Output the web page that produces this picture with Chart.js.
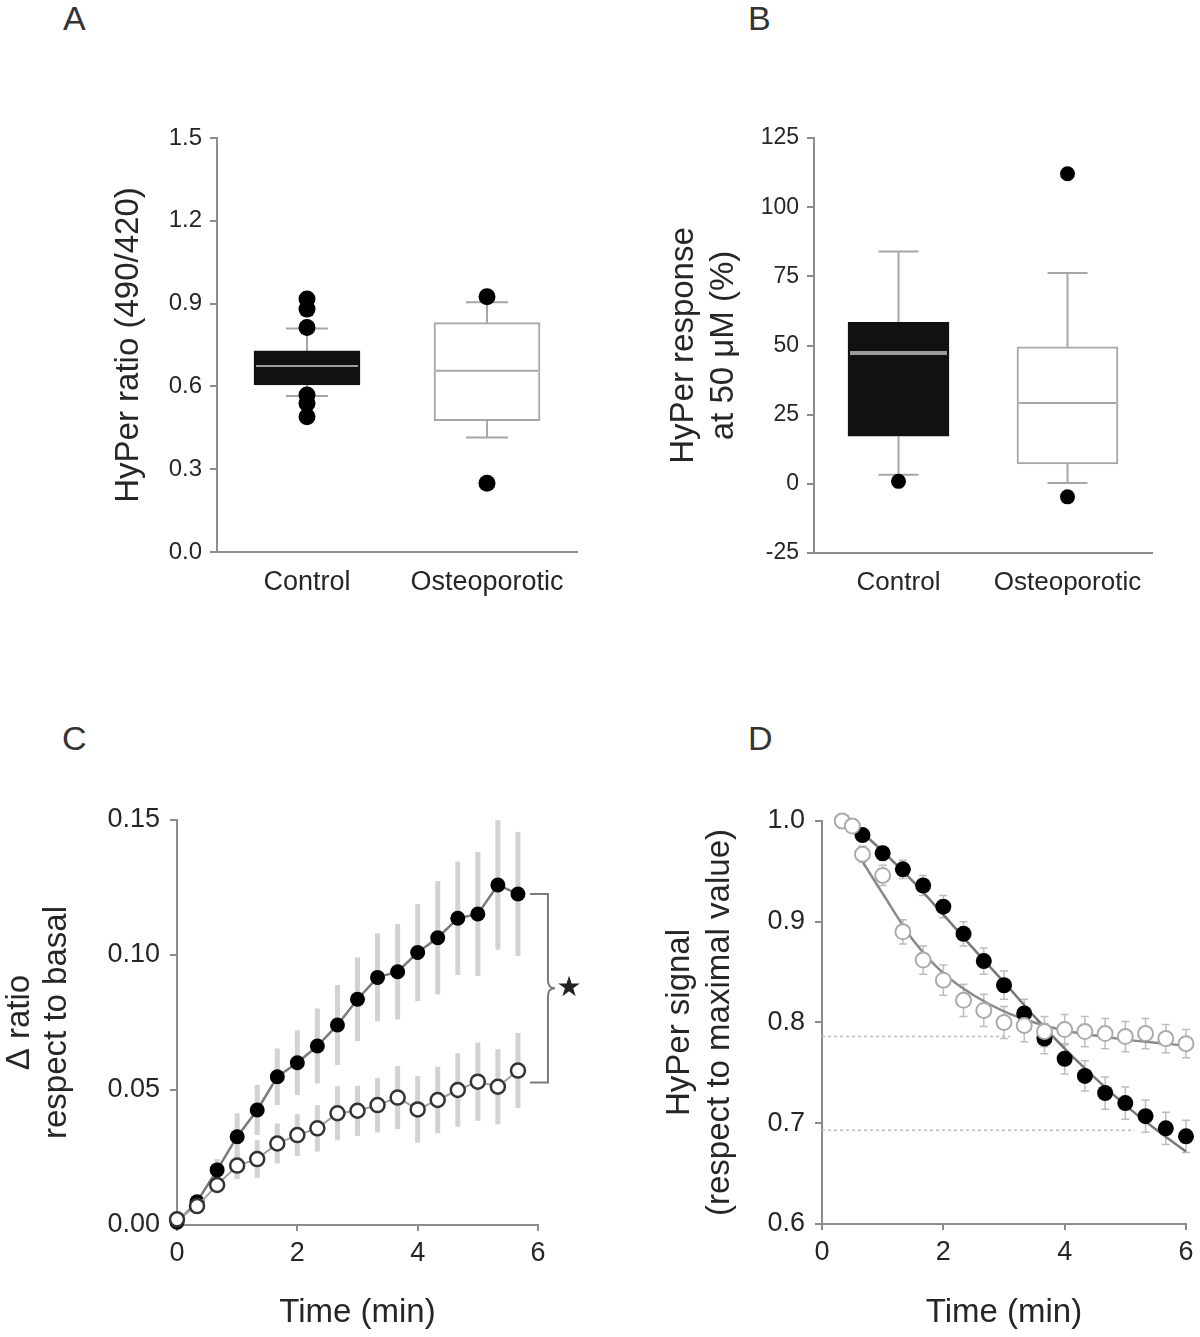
<!DOCTYPE html>
<html>
<head>
<meta charset="utf-8">
<script src="https://cdn.jsdelivr.net/npm/chart.js@4.4.0/dist/chart.umd.min.js"></script>
<style>
  body { margin: 0; background: #fff; width: 1200px; height: 1337px; position: relative; overflow: hidden;
         font-family: 'Liberation Sans', Arial, sans-serif; }
  .panel { position: absolute; }
  .letter { position: absolute; font-size: 34px; line-height: 1; color: #333; }
</style>
</head>
<body>
<div class="letter" style="left:63px;top:1px">A</div>
<div class="letter" style="left:748px;top:1px">B</div>
<div class="letter" style="left:62px;top:721px">C</div>
<div class="letter" style="left:748px;top:721px">D</div>

<canvas class="panel" id="chartA" width="600" height="650" style="left:0;top:0"></canvas>
<canvas class="panel" id="chartB" width="600" height="650" style="left:600px;top:0"></canvas>
<canvas class="panel" id="chartC" width="600" height="647" style="left:0;top:690px"></canvas>
<canvas class="panel" id="chartD" width="600" height="647" style="left:600px;top:690px"></canvas>

<script>
// --- data ---
const categories = ['Control', 'Osteoporotic'];

// A: basal HyPer ratio (box plots)
const ratioQ1 = [0.605, 0.476];
const ratioMedian = [0.674, 0.657];
const ratioQ3 = [0.729, 0.831];
const ratioLow = [0.565, 0.415];
const ratioHigh = [0.81, 0.905];
const ratioOutliers = [[0.917, 0.880, 0.813, 0.569, 0.539, 0.490], [0.925, 0.249]];
const ratioTicks = [0, 0.3, 0.6, 0.9, 1.2, 1.5];

// B: response at 50 uM (box plots)
const respQ1 = [17.2, 7.2];
const respMedian = [47.3, 29.2];
const respQ3 = [58.4, 49.5];
const respLow = [3.3, 0.3];
const respHigh = [84.0, 76.2];
const respOutliers = [[0.9], [112.1, -4.7]];
const respTicks = [-25, 0, 25, 50, 75, 100, 125];

// C: delta ratio over time
const timesC = [0, 0.333, 0.667, 1, 1.333, 1.667, 2, 2.333, 2.667, 3, 3.333, 3.667, 4, 4.333, 4.667, 5, 5.333, 5.667];
const controlC = [0.001, 0.0086, 0.0204, 0.0327, 0.0426, 0.0549, 0.0601, 0.0663, 0.0741, 0.0836, 0.0917, 0.0938, 0.1009, 0.1064, 0.1136, 0.1152, 0.1259, 0.1226];
const controlErrC = [0, 0.002, 0.004, 0.0087, 0.0093, 0.0105, 0.012, 0.0139, 0.0148, 0.0155, 0.0163, 0.0177, 0.018, 0.021, 0.021, 0.023, 0.024, 0.023];
const osteoC = [0.0021, 0.0070, 0.0148, 0.0220, 0.0244, 0.0302, 0.0333, 0.0358, 0.0414, 0.0423, 0.0444, 0.0472, 0.0428, 0.0463, 0.0500, 0.0531, 0.0512, 0.0572];
const osteoErrC = [0, 0.002, 0.003, 0.005, 0.007, 0.0074, 0.0078, 0.0086, 0.010, 0.0093, 0.0101, 0.0117, 0.0123, 0.0123, 0.0136, 0.0145, 0.0139, 0.0139];
const timeTicks = [0, 2, 4, 6];
const deltaTicks = [0, 0.05, 0.10, 0.15];

// D: HyPer signal decay
const timesDControl = [0.333, 0.667, 1, 1.333, 1.667, 2, 2.333, 2.667, 3, 3.333, 3.667, 4, 4.333, 4.667, 5, 5.333, 5.667, 6];
const controlD = [1.0, 0.986, 0.968, 0.952, 0.936, 0.915, 0.888, 0.861, 0.837, 0.809, 0.784, 0.764, 0.747, 0.730, 0.720, 0.707, 0.695, 0.687];
const controlErrD = [0, 0.005, 0.007, 0.009, 0.010, 0.011, 0.012, 0.013, 0.014, 0.014, 0.015, 0.015, 0.015, 0.016, 0.016, 0.016, 0.016, 0.016];
const timesDOsteo = [0.333, 0.5, 0.667, 1, 1.333, 1.667, 2, 2.333, 2.667, 3, 3.333, 3.667, 4, 4.333, 4.667, 5, 5.333, 5.667, 6];
const osteoD = [1.0, 0.995, 0.967, 0.946, 0.890, 0.862, 0.842, 0.822, 0.812, 0.800, 0.797, 0.791, 0.793, 0.791, 0.789, 0.786, 0.789, 0.784, 0.779];
const osteoErrD = [0, 0.004, 0.008, 0.010, 0.012, 0.014, 0.015, 0.016, 0.016, 0.016, 0.016, 0.015, 0.015, 0.015, 0.015, 0.015, 0.015, 0.014, 0.014];
const fitTControl = [0.5, 1, 1.5, 2, 2.5, 3, 3.5, 4, 4.5, 5, 5.5, 6];
const fitControl = [0.997, 0.970, 0.940, 0.907, 0.873, 0.840, 0.806, 0.774, 0.745, 0.718, 0.694, 0.672];
const fitTOsteo = [0.55, 1, 1.5, 2, 2.5, 3, 3.5, 4, 4.5, 5, 5.5, 6];
const fitOsteo = [0.971, 0.928, 0.882, 0.849, 0.827, 0.811, 0.800, 0.792, 0.787, 0.783, 0.780, 0.777];
const plateauLevels = [0.786, 0.693];
const plateauEnds = [3.1, 5.15];
const signalTicks = [0.6, 0.7, 0.8, 0.9, 1.0];

// --- shared look ---
Chart.defaults.font.family = "'Liberation Sans', Arial, sans-serif";
Chart.defaults.color = '#262626';
Chart.defaults.animation = false;
Chart.defaults.events = [];
Chart.defaults.plugins.legend.display = false;
Chart.defaults.plugins.tooltip.enabled = false;

const AXIS = '#8c8c8c';
const pts = (xs, ys) => xs.map((x, i) => ({ x: x, y: ys[i] }));
const fixedTicks = list => s => { s.ticks = list.map(v => ({ value: v })); };

// vertical error bars drawn behind the points
const errorBars = {
    id: 'errorBars',
    beforeDatasetsDraw(chart, args, opts) {
        const { ctx, scales: { x, y } } = chart;
        ctx.save();
        ctx.strokeStyle = opts.color;
        ctx.lineWidth = opts.width;
        chart.data.datasets.forEach(ds => {
            if (!ds.errors) return;
            ds.data.forEach((p, i) => {
                const e = ds.errors[i];
                if (!e) return;
                const px = x.getPixelForValue(p.x);
                const top = y.getPixelForValue(p.y + e);
                const bot = y.getPixelForValue(p.y - e);
                ctx.beginPath();
                ctx.moveTo(px, top);
                ctx.lineTo(px, bot);
                if (opts.cap) {
                    ctx.moveTo(px - opts.cap / 2, top); ctx.lineTo(px + opts.cap / 2, top);
                    ctx.moveTo(px - opts.cap / 2, bot); ctx.lineTo(px + opts.cap / 2, bot);
                }
                ctx.stroke();
            });
        });
        ctx.restore();
    }
};

function boxPanel(id, d, look) {
    const outlierPts = [];
    d.outliers.forEach((list, i) => list.forEach(v => outlierPts.push({ x: categories[i], y: v })));
    const extras = {
        id: 'boxExtras',
        beforeDatasetsDraw(chart) {
            const { ctx, scales: { x, y } } = chart;
            ctx.save();
            ctx.strokeStyle = '#a6a6a6';
            ctx.lineWidth = 2;
            categories.forEach((c, i) => {
                const cx = x.getPixelForValue(i);
                [[d.q3[i], d.high[i]], [d.q1[i], d.low[i]]].forEach(([from, to]) => {
                    const y0 = y.getPixelForValue(from), y1 = y.getPixelForValue(to);
                    ctx.beginPath();
                    ctx.moveTo(cx, y0); ctx.lineTo(cx, y1);
                    ctx.moveTo(cx - look.cap / 2, y1); ctx.lineTo(cx + look.cap / 2, y1);
                    ctx.stroke();
                });
            });
            ctx.restore();
        },
        afterDatasetsDraw(chart) {
            const { ctx, scales: { x, y } } = chart;
            ctx.save();
            categories.forEach((c, i) => {
                const cx = x.getPixelForValue(i);
                const my = y.getPixelForValue(d.median[i]);
                ctx.strokeStyle = i === 0 ? '#9c9c9c' : '#a6a6a6';
                ctx.lineWidth = i === 0 ? look.medianW : 2;
                ctx.beginPath();
                ctx.moveTo(cx - look.bar / 2 + 2, my);
                ctx.lineTo(cx + look.bar / 2 - 2, my);
                ctx.stroke();
            });
            ctx.restore();
        }
    };
    return new Chart(document.getElementById(id), {
        type: 'bar',
        data: {
            labels: categories,
            datasets: [
                {
                    type: 'line', data: outlierPts, showLine: false, clip: false,
                    pointRadius: look.dot, pointBackgroundColor: '#000', pointBorderColor: '#000', pointBorderWidth: 0
                },
                {
                    data: d.q1.map((v, i) => [v, d.q3[i]]),
                    backgroundColor: ['#111', '#fff'],
                    borderColor: ['#111', '#a6a6a6'],
                    borderWidth: 2, borderSkipped: false, barThickness: look.bar
                }
            ]
        },
        options: {
            responsive: false,
            layout: { padding: look.pad },
            scales: {
                x: {
                    grid: { display: false, offset: false, tickLength: 6 },
                    border: { color: AXIS, width: 2 },
                    ticks: { font: { size: look.catSize }, padding: 8 },
                    afterFit: s => { s.height = look.xH; }
                },
                y: {
                    min: d.ticks[0], max: d.ticks[d.ticks.length - 1],
                    afterBuildTicks: fixedTicks(d.ticks),
                    grid: { drawOnChartArea: false, tickLength: 7, color: AXIS, lineWidth: 2 },
                    border: { color: AXIS, width: 2 },
                    ticks: { font: { size: look.tickSize }, padding: 8, callback: look.fmt },
                    title: { display: true, text: look.title, font: { size: 33, lineHeight: 1.21 }, padding: { top: look.titlePad, bottom: 0 } },
                    afterFit: s => { s.width = look.yW; }
                }
            }
        },
        plugins: [extras]
    });
}

boxPanel('chartA',
    { q1: ratioQ1, median: ratioMedian, q3: ratioQ3, low: ratioLow, high: ratioHigh, outliers: ratioOutliers, ticks: ratioTicks },
    { bar: 106, cap: 42, dot: 8.5, medianW: 2, catSize: 27, tickSize: 24, fmt: v => v.toFixed(1),
      title: 'HyPer ratio (490/420)', titlePad: 9, yW: 117, xH: 58,
      pad: { left: 100, top: 138, right: 23, bottom: 40 } });

boxPanel('chartB',
    { q1: respQ1, median: respMedian, q3: respQ3, low: respLow, high: respHigh, outliers: respOutliers, ticks: respTicks },
    { bar: 101, cap: 40, dot: 7.5, medianW: 4, catSize: 26, tickSize: 23, fmt: v => v,
      title: ['HyPer response', 'at 50 μM (%)'], titlePad: 9, yW: 159, xH: 57,
      pad: { left: 55, top: 138, right: 48, bottom: 40 } });

// --- C: time course of delta ratio ---
const bracket = {
    id: 'bracket',
    afterDatasetsDraw(chart) {
        const { ctx, scales: { x, y } } = chart;
        const x0 = x.getPixelForValue(timesC[timesC.length - 1]) + 12;
        const x1 = x0 + 18;
        const yTop = y.getPixelForValue(controlC[controlC.length - 1]);
        const yBot = y.getPixelForValue(osteoC[osteoC.length - 1]) + 12;
        const yMid = (yTop + yBot) / 2;
        ctx.save();
        ctx.strokeStyle = '#7a7a7a';
        ctx.lineWidth = 2;
        ctx.beginPath();
        ctx.moveTo(x0, yTop);
        ctx.lineTo(x1, yTop);
        ctx.lineTo(x1, yMid - 8);
        ctx.quadraticCurveTo(x1, yMid, x1 + 7, yMid);
        ctx.quadraticCurveTo(x1, yMid, x1, yMid + 8);
        ctx.lineTo(x1, yBot);
        ctx.lineTo(x0, yBot);
        ctx.stroke();
        ctx.fillStyle = '#222';
        ctx.font = "28px 'DejaVu Sans'";
        ctx.textAlign = 'center';
        ctx.textBaseline = 'middle';
        ctx.fillText('★', x1 + 21, yMid);
        ctx.restore();
    }
};

function timeAxis(height) {
    return {
        type: 'linear', min: 0, max: 6,
        afterBuildTicks: fixedTicks(timeTicks),
        grid: { drawOnChartArea: false, tickLength: 6, color: AXIS, lineWidth: 2 },
        border: { color: AXIS, width: 2 },
        ticks: { font: { size: 27 }, padding: 6 },
        title: { display: true, text: 'Time (min)', font: { size: 33, lineHeight: 1.15 }, padding: { top: 0, bottom: 5 } },
        afterFit: s => { s.height = height; }
    };
}

new Chart(document.getElementById('chartC'), {
    type: 'line',
    data: {
        datasets: [
            {
                data: pts(timesC, osteoC), errors: osteoErrC, clip: false,
                borderColor: '#a0a0a0', borderWidth: 2,
                pointRadius: 7, pointBackgroundColor: '#fff', pointBorderColor: '#333', pointBorderWidth: 2.5
            },
            {
                data: pts(timesC, controlC), errors: controlErrC, clip: false,
                borderColor: '#7a7a7a', borderWidth: 2.5,
                pointRadius: 7.5, pointBackgroundColor: '#000', pointBorderColor: '#000', pointBorderWidth: 0
            }
        ]
    },
    options: {
        responsive: false,
        layout: { padding: { left: 0, top: 130, right: 62, bottom: 0 } },
        plugins: { errorBars: { color: '#d2d2d2', width: 5 } },
        scales: {
            x: timeAxis(112),
            y: {
                min: 0, max: 0.15,
                afterBuildTicks: fixedTicks(deltaTicks),
                grid: { drawOnChartArea: false, tickLength: 7, color: AXIS, lineWidth: 2 },
                border: { color: AXIS, width: 2 },
                ticks: { font: { size: 27 }, padding: 10, callback: v => v.toFixed(2) },
                title: { display: true, text: ['Δ ratio', 'respect to basal'], font: { size: 33, lineHeight: 1.12 }, padding: { top: 1, bottom: 0 } },
                afterFit: s => { s.width = 177; }
            }
        }
    },
    plugins: [errorBars, bracket]
});

// --- D: HyPer signal relative to maximal value ---
new Chart(document.getElementById('chartD'), {
    type: 'line',
    data: {
        datasets: [
            {
                data: pts(timesDOsteo, osteoD), errors: osteoErrD, clip: false, showLine: false,
                pointRadius: 7.5, pointBackgroundColor: '#fff', pointBorderColor: '#ababab', pointBorderWidth: 2
            },
            {
                data: pts(timesDControl, controlD), errors: controlErrD, clip: false, showLine: false,
                pointRadius: 8, pointBackgroundColor: '#000', pointBorderColor: '#000', pointBorderWidth: 0
            },
            {
                data: pts(fitTOsteo, fitOsteo), clip: false, pointRadius: 0,
                borderColor: '#8a8a8a', borderWidth: 2.5, cubicInterpolationMode: 'monotone'
            },
            {
                data: pts(fitTControl, fitControl), clip: false, pointRadius: 0,
                borderColor: '#777', borderWidth: 2.5, cubicInterpolationMode: 'monotone'
            },
            ...plateauLevels.map((v, i) => ({
                data: [{ x: 0, y: v }, { x: plateauEnds[i], y: v }], pointRadius: 0,
                borderColor: '#bdbdbd', borderWidth: 1.5, borderDash: [3, 3]
            }))
        ]
    },
    options: {
        responsive: false,
        layout: { padding: { left: 55, top: 131, right: 14, bottom: 0 } },
        plugins: { errorBars: { color: '#bdbdbd', width: 1.5, cap: 8 } },
        scales: {
            x: timeAxis(113),
            y: {
                min: 0.6, max: 1.0,
                afterBuildTicks: fixedTicks(signalTicks),
                grid: { drawOnChartArea: false, tickLength: 7, color: AXIS, lineWidth: 2 },
                border: { color: AXIS, width: 2 },
                ticks: { font: { size: 27 }, padding: 10, callback: v => v.toFixed(1) },
                title: { display: true, text: ['HyPer signal', '(respect to maximal value)'], font: { size: 33, lineHeight: 1.21 }, padding: { top: 5, bottom: 0 } },
                afterFit: s => { s.width = 167; }
            }
        }
    },
    plugins: [errorBars]
});
</script>
</body>
</html>
